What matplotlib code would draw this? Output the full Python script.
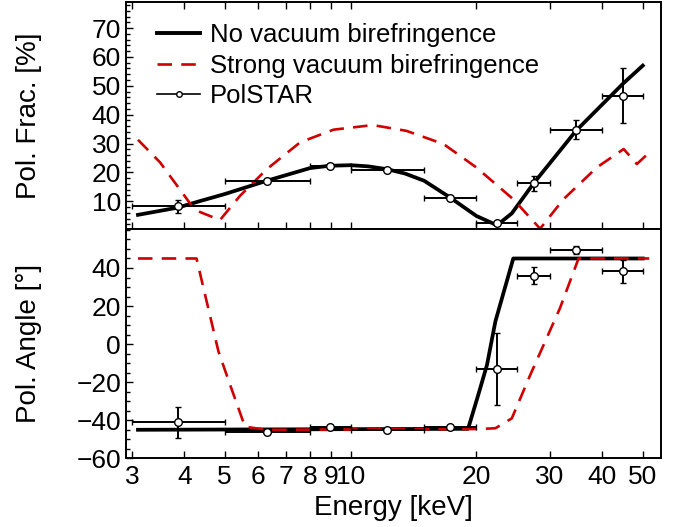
import numpy as np
import matplotlib
matplotlib.use('Agg')
import matplotlib.pyplot as plt
from matplotlib.ticker import FixedLocator, FixedFormatter, NullLocator, MultipleLocator
from matplotlib.lines import Line2D

plt.rcParams['font.family'] = ['Liberation Sans', 'DejaVu Sans']

# model curves, top panel (polarisation fraction, %)
e_nvb_frac = [3.1, 3.86, 4.37, 5.0, 6.3, 8.0, 8.9, 10.0, 11.0, 12.25, 13.5, 15.0, 17.3, 20.0, 22.4, 24.3, 27.4, 34.6, 44.8, 50.0]
nvb_frac = [5.3, 7.8, 10.1, 12.5, 17.1, 21.5, 22.3, 22.5, 22.1, 21.1, 19.6, 17.1, 11.3, 4.9, 1.7, 5.8, 16.2, 34.4, 50.7, 57.0]

e_svb_frac = [3.1, 3.5, 4.24, 4.87, 5.44, 6.3, 7.57, 9.1, 11.3, 13.6, 16.7, 20.0, 24.5, 28.4, 32.3, 38.8, 45.0, 48.4, 51.8]
svb_frac = [31.3, 23.5, 7.0, 3.5, 11.9, 21.1, 30.4, 34.8, 36.4, 34.4, 29.8, 21.7, 10.7, 0.5, 10.7, 21.7, 28.1, 22.9, 26.9]

# model curves, bottom panel (polarisation angle, deg)
e_nvb_ang = [3.1, 19.1, 20.2, 21.2, 22.2, 24.5, 50.0]
nvb_ang = [-45, -44.5, -26.7, -10.9, 11.9, 45, 45]

e_svb_ang = [3.1, 4.28, 4.83, 5.15, 5.59, 6.3, 20.2, 22.2, 24.3, 26.9, 31.7, 35.1, 51.8]
svb_ang = [45, 45, -3.9, -21.4, -43.4, -45, -44.6, -44.2, -39, -16.2, 19, 45, 45]

# PolSTAR simulated points
e_pts = [3.86, 6.3, 8.93, 12.25, 17.3, 22.4, 27.4, 34.6, 44.8]
e_lo = [3, 5, 8, 10, 15, 20, 25, 30, 40]
e_hi = [5, 8, 10, 15, 20, 25, 30, 40, 50]
pf = [8.2, 16.9, 22.3, 20.8, 11.2, 2.4, 16.2, 34.8, 46.6]
pf_err = [2.2, 0.7, 0.7, 0.7, 0.7, 0.7, 2.5, 3.3, 9.5]
pa = [-41.1, -46.3, -43.4, -45.1, -43.4, -13.0, 36.0, 49.6, 38.2]
pa_err = [8, 0.8, 0.8, 0.8, 0.8, 19, 4.5, 2, 6]

xticks = [3, 4, 5, 6, 7, 8, 9, 10, 20, 30, 40, 50]

red = '#d00000'
tick_fs = 19
lab_fs = 20
leg_fs = 18.5

fig = plt.figure(figsize=(6.84, 5.27), dpi=100)
ax1 = fig.add_axes([0.184, 0.5655, 0.782, 0.4305])
ax2 = fig.add_axes([0.184, 0.1303, 0.782, 0.4352], sharex=ax1)

xerr = [np.array(e_pts) - np.array(e_lo), np.array(e_hi) - np.array(e_pts)]


def draw(ax, ex1, y1, ex2, y2, yp, yerr):
    ax.plot(ex1, y1, color='black', lw=2.7, solid_joinstyle='round', zorder=2)
    ax.plot(ex2, y2, color=red, lw=1.9, linestyle=(0, (5.5, 3.5)), zorder=3)
    ax.errorbar(e_pts, yp, xerr=xerr, yerr=yerr, fmt='o', color='black',
                mfc='white', mec='black', ms=5.5, mew=1.0, elinewidth=1.4,
                capsize=2.2, capthick=1.4, zorder=4)


draw(ax1, e_nvb_frac, nvb_frac, e_svb_frac, svb_frac, pf, pf_err)
draw(ax2, e_nvb_ang, nvb_ang, e_svb_ang, svb_ang, pa, pa_err)

ax1.set_xscale('log')
ax1.set_xlim(2.9, 55.2)
ax1.set_ylim(0.4, 79)
ax2.set_ylim(-60, 60.5)

for ax in (ax1, ax2):
    ax.xaxis.set_major_locator(FixedLocator(xticks))
    ax.xaxis.set_minor_locator(NullLocator())
    for s in ax.spines.values():
        s.set_linewidth(1.4)
    ax.tick_params(which='both', direction='in', width=1.0, labelsize=tick_fs, right=False)
    ax.tick_params(which='major', length=5)
    ax.tick_params(which='minor', length=3)

ax2.xaxis.set_major_formatter(FixedFormatter([str(t) for t in xticks]))
ax1.tick_params(axis='x', top=True, bottom=True, labelbottom=False)
ax2.tick_params(axis='x', top=False, bottom=True, pad=5)

ax1.yaxis.set_major_locator(FixedLocator([10, 20, 30, 40, 50, 60, 70]))
ax1.yaxis.set_minor_locator(MultipleLocator(2))
ax2.yaxis.set_major_locator(FixedLocator([-60, -40, -20, 0, 20, 40]))
ax2.yaxis.set_minor_locator(MultipleLocator(5))

ax1.set_ylabel('Pol. Frac. [%]', fontsize=lab_fs)
ax2.set_ylabel('Pol. Angle [°]', fontsize=lab_fs)
ax2.set_xlabel('Energy [keV]', fontsize=lab_fs, labelpad=4)
ax1.yaxis.set_label_coords(-0.157, 0.5)
ax2.yaxis.set_label_coords(-0.157, 0.5)

handles = [Line2D([], [], color='black', lw=2.8),
           Line2D([], [], color=red, lw=1.9, linestyle=(0, (5.5, 3.5))),
           Line2D([], [], color='black', lw=1.2, marker='o', ms=4, mfc='white', mec='black')]
labels = ['No vacuum birefringence', 'Strong vacuum birefringence', 'PolSTAR']
ax1.legend(handles, labels, loc='upper left', bbox_to_anchor=(0.03, 0.975), frameon=False,
           fontsize=leg_fs, handlelength=1.65, handletextpad=0.4, labelspacing=0.25,
           borderaxespad=0.2)

fig.savefig('out.png', dpi=100)
